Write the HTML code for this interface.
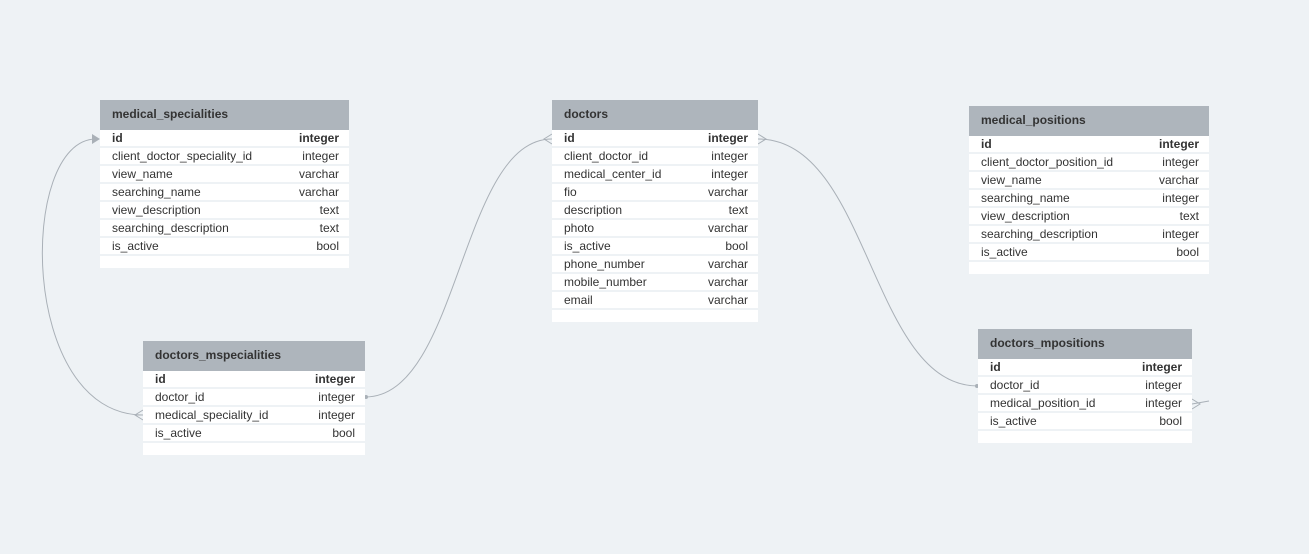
<!DOCTYPE html>
<html><head><meta charset="utf-8"><style>
body{margin:0;width:1309px;height:554px;background:#eef2f5;font-family:"Liberation Sans",sans-serif;position:relative;overflow:hidden}
.t{position:absolute;background:#fff;padding-bottom:12px}
.h{height:30px;background:#aeb5bc;color:#333;font-weight:bold;font-size:12px;line-height:29px;padding-left:12px}
.r{height:16px;line-height:16px;border-bottom:2px solid #eef2f5;font-size:12px;color:#333;display:flex;justify-content:space-between;padding:0 10px 0 12px}
.r.pk{font-weight:bold}
svg{position:absolute;left:0;top:0}
</style></head><body>
<svg width="1309" height="554">
<g fill="none" stroke="#a9b0b7" stroke-width="1">
<path d="M96,139 C18,139 18,415 143,415"/>
<path d="M143,410 L135,415 L143,420 M135,415 L143,415"/>
<path d="M365,397 C460,397 460,139 552,139"/>
<path d="M552,134 L544,139 L552,144"/>
<path d="M758,139 C870,139 870,386 978,386"/>
<path d="M758,134 L766,139 L758,144"/>
<path d="M1192,404 L1209,401"/>
<path d="M1192,399 L1200,404 L1192,409"/>
</g>
<polygon points="92,134 100,139 92,144" fill="#a9b0b7"/>
<circle cx="366" cy="397" r="2" fill="#a9b0b7"/>
<circle cx="977" cy="386" r="2" fill="#a9b0b7"/>
</svg>

<div class="t" style="left:100px;top:100px;width:249px">
<div class="h">medical_specialities</div>
<div class="r pk"><span>id</span><span>integer</span></div>
<div class="r"><span>client_doctor_speciality_id</span><span>integer</span></div>
<div class="r"><span>view_name</span><span>varchar</span></div>
<div class="r"><span>searching_name</span><span>varchar</span></div>
<div class="r"><span>view_description</span><span>text</span></div>
<div class="r"><span>searching_description</span><span>text</span></div>
<div class="r"><span>is_active</span><span>bool</span></div>
</div>

<div class="t" style="left:552px;top:100px;width:206px">
<div class="h">doctors</div>
<div class="r pk"><span>id</span><span>integer</span></div>
<div class="r"><span>client_doctor_id</span><span>integer</span></div>
<div class="r"><span>medical_center_id</span><span>integer</span></div>
<div class="r"><span>fio</span><span>varchar</span></div>
<div class="r"><span>description</span><span>text</span></div>
<div class="r"><span>photo</span><span>varchar</span></div>
<div class="r"><span>is_active</span><span>bool</span></div>
<div class="r"><span>phone_number</span><span>varchar</span></div>
<div class="r"><span>mobile_number</span><span>varchar</span></div>
<div class="r"><span>email</span><span>varchar</span></div>
</div>

<div class="t" style="left:969px;top:106px;width:240px">
<div class="h">medical_positions</div>
<div class="r pk"><span>id</span><span>integer</span></div>
<div class="r"><span>client_doctor_position_id</span><span>integer</span></div>
<div class="r"><span>view_name</span><span>varchar</span></div>
<div class="r"><span>searching_name</span><span>integer</span></div>
<div class="r"><span>view_description</span><span>text</span></div>
<div class="r"><span>searching_description</span><span>integer</span></div>
<div class="r"><span>is_active</span><span>bool</span></div>
</div>

<div class="t" style="left:143px;top:341px;width:222px">
<div class="h">doctors_mspecialities</div>
<div class="r pk"><span>id</span><span>integer</span></div>
<div class="r"><span>doctor_id</span><span>integer</span></div>
<div class="r"><span>medical_speciality_id</span><span>integer</span></div>
<div class="r"><span>is_active</span><span>bool</span></div>
</div>

<div class="t" style="left:978px;top:329px;width:214px">
<div class="h">doctors_mpositions</div>
<div class="r pk"><span>id</span><span>integer</span></div>
<div class="r"><span>doctor_id</span><span>integer</span></div>
<div class="r"><span>medical_position_id</span><span>integer</span></div>
<div class="r"><span>is_active</span><span>bool</span></div>
</div>
</body></html>
